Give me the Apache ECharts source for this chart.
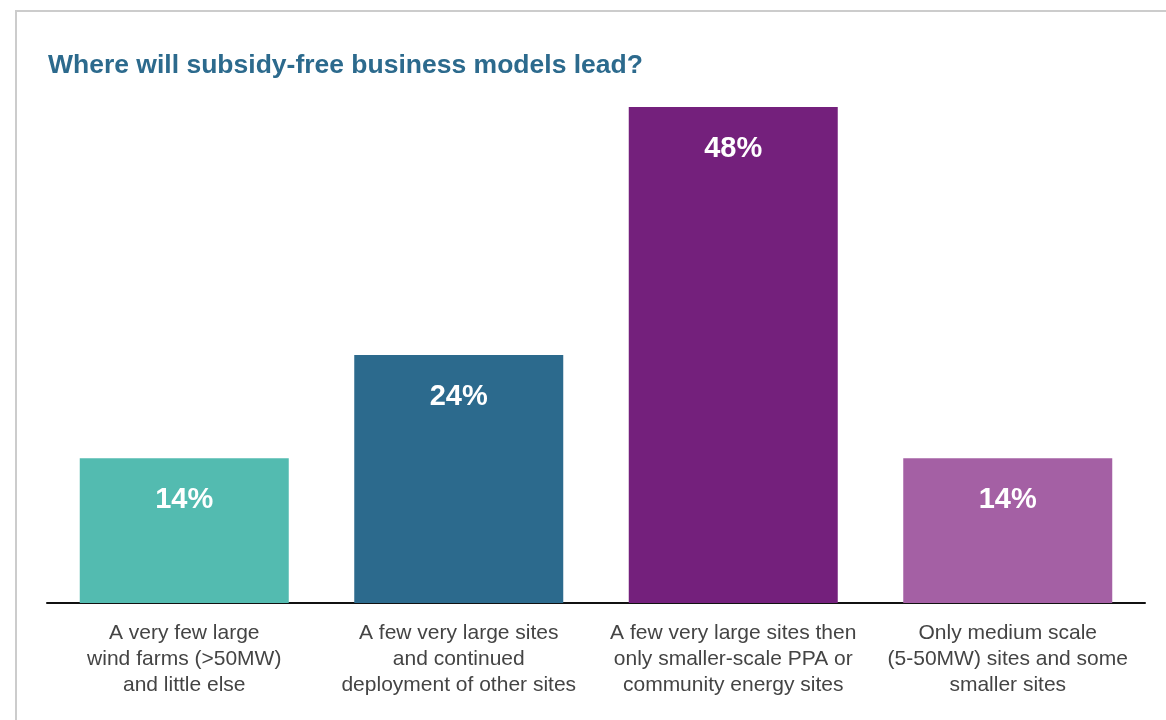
<!DOCTYPE html>
<html>
<head>
<meta charset="utf-8">
<style>
  html, body { margin: 0; padding: 0; background: #fff; }
  #frame {
    position: absolute; left: 15px; top: 10px; width: 1200px; height: 760px;
    border-left: 2px solid #cccccc; border-top: 2px solid #cccccc;
  }
  #chart { position: absolute; left: 0; top: 0; width: 1166px; height: 720px; }
</style>
<script src="https://cdn.jsdelivr.net/npm/echarts@6/dist/echarts.min.js"></script>
</head>
<body>
<div id="frame"></div>
<div id="chart"></div>
<script>
// categories, shares (%), bar colours
const categories = [
  'A very few large\nwind farms (>50MW)\nand little else',
  'A few very large sites\nand continued\ndeployment of other sites',
  'A few very large sites then\nonly smaller-scale PPA or\ncommunity energy sites',
  'Only medium scale\n(5-50MW) sites and some\nsmaller sites'
]
const shares = [14, 24, 48, 14]
const barColors = ['#53bbb0', '#2c6a8d', '#74207c', '#a460a4']

const font = '"Liberation Sans", Arial, Helvetica, sans-serif'
const chart = echarts.init(document.getElementById('chart'))

chart.setOption({
  animation: false,
  title: {
    text: 'Where will subsidy-free business models lead?',
    left: 43,
    top: 47,
    textStyle: { color: '#2c6a8d', fontSize: 26.5, fontWeight: 'bold', fontFamily: font }
  },
  grid: { left: 47, right: 21, top: 107, bottom: 117 },
  xAxis: {
    type: 'category',
    data: categories,
    axisLine: { lineStyle: { color: '#111', width: 2 } },
    axisTick: { show: false },
    axisLabel: {
      interval: 0,
      margin: 17,
      color: '#444',
      fontSize: 21,
      lineHeight: 26,
      fontFamily: font
    }
  },
  yAxis: {
    type: 'value',
    min: 0,
    max: 48,
    show: false
  },
  series: [{
    type: 'bar',
    barWidth: 209,
    data: shares.map((v, i) => ({ value: v, itemStyle: { color: barColors[i] } })),
    label: {
      show: true,
      position: 'insideTop',
      distance: 27,
      formatter: '{c}%',
      color: '#fff',
      fontSize: 29,
      fontWeight: 'bold',
      fontFamily: font
    }
  }]
})
</script>
</body>
</html>
